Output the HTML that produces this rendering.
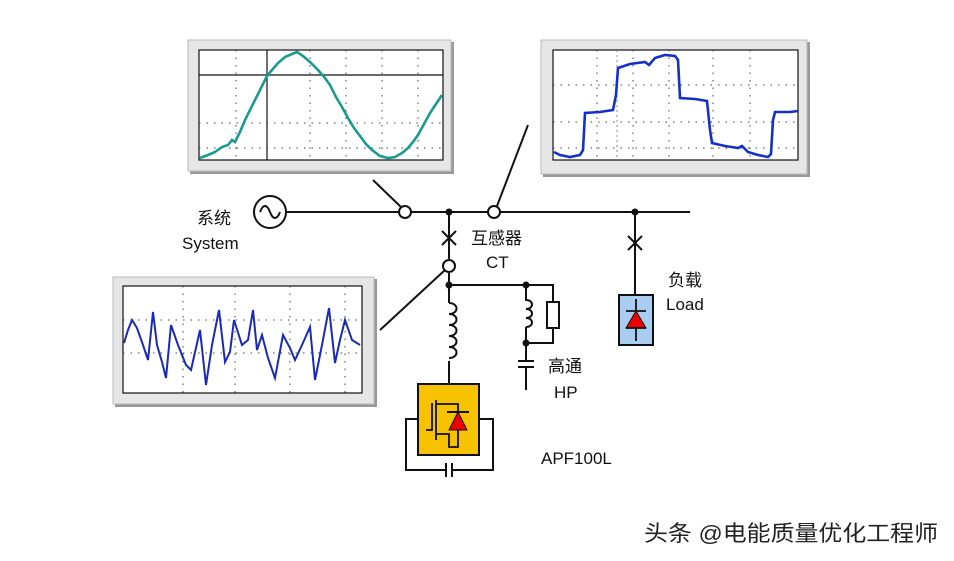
<!DOCTYPE html>
<html><head><meta charset="utf-8"><style>
html,body{margin:0;padding:0;background:#fff;width:954px;height:561px;overflow:hidden}
svg{display:block}
text{font-family:"Liberation Sans","Noto Sans CJK SC",sans-serif;font-size:17px;fill:#111}
</style></head><body>
<svg width="954" height="561" viewBox="0 0 954 561" xmlns="http://www.w3.org/2000/svg">
<g>
<rect x="190" y="42" width="264" height="132" fill="#999"/>
<rect x="188" y="40" width="263" height="131" fill="#e6e6e6" stroke="#bbb"/>
<rect x="199" y="50" width="244" height="110" fill="#fff" stroke="#111" stroke-width="1.2"/>
<rect x="543" y="42" width="267" height="135" fill="#999"/>
<rect x="541" y="40" width="266" height="134" fill="#e6e6e6" stroke="#bbb"/>
<rect x="553" y="50" width="245" height="110" fill="#fff" stroke="#111" stroke-width="1.2"/>
<rect x="115" y="279" width="262" height="128" fill="#999"/>
<rect x="113" y="277" width="261" height="127" fill="#e6e6e6" stroke="#bbb"/>
<rect x="123" y="286" width="239" height="107" fill="#fff" stroke="#111" stroke-width="1.2"/>
</g>
<g stroke="#444" stroke-width="1" stroke-dasharray="1.5 6" fill="none">
<path d="M236 50V160M310 50V160M346 50V160M382 50V160M418 50V160M199 123H443M199 148H443"/>
<path d="M597 50V160M633 50V160M669 50V160M713 50V160M750 50V160M553 85H798M553 122H798M553 148H798"/>
<path d="M183 286V393M235 286V393M290 286V393M345 286V393M123 320H362M123 353H362"/>
</g>
<path d="M199 75H443M267 50V160" stroke="#111" stroke-width="1.2"/>
<path d="M617 50V160" stroke="#888" stroke-width="1" stroke-dasharray="2 3"/>
<polyline fill="none" stroke="#1a9b8e" stroke-width="2.6" points="200,158 208,155 215,152 222,147 228,145 232,140 235,142 240,132 245,120 250,110 255,100 260,90 264,82 267,76 272,70 278,63 285,57 292,54 297,52 303,56 310,62 318,70 325,78 330,85 336,97 342,107 348,118 354,128 360,136 366,144 372,150 380,156 388,158 395,157 402,153 408,148 413,142 418,135 424,124 430,113 436,104 442,95"/>
<polyline fill="none" stroke="#1530c8" stroke-width="2.6" points="554,152 560,155 570,157 580,155 583,150 585,113 600,112 613,110 616,95 618,68 630,64 645,62 649,65 655,58 665,55 675,56 678,60 680,98 695,99 707,101 710,130 712,143 725,146 738,148 742,146 748,152 758,155 768,157 771,154 773,120 775,112 790,112 798,111"/>
<polyline fill="none" stroke="#1a2ab8" stroke-width="2" points="124,343 128,330 132,320 137,328 143,345 148,360 153,312 157,345 162,362 166,378 171,325 178,345 186,365 191,370 200,330 206,385 212,345 219,310 225,362 230,352 234,320 242,345 248,340 253,310 257,350 262,335 268,358 275,378 283,335 290,348 295,360 302,345 310,327 315,380 322,345 329,308 335,363 340,340 345,320 352,340 360,345"/>
<g stroke="#111" stroke-width="2" fill="none">
<circle cx="270" cy="212" r="16"/>
<path d="M260 212c3-8 7-8 10 0s7 8 10 0"/>
<path d="M286 212H690"/>
<circle cx="405" cy="212" r="6" fill="#fff"/>
<path d="M373 180L401 207"/>
<circle cx="494" cy="212" r="6" fill="#fff"/>
<path d="M528 125L497 206"/>
<path d="M449 212V384"/>
<path d="M442 231l14 14M456 231l-14 14"/>
<circle cx="449" cy="266" r="6" fill="#fff"/>
<path d="M380 330L445 270"/>
<path d="M449 285H526V300M526 285H553V302M553 328V343H526"/>
<rect x="547" y="302" width="12" height="26" fill="#fff"/>
<path d="M526 300v30M526 330V360M518 361h16M518 367h16M526 367V390"/>
<path d="M635 212V295M628 236l14 14M642 236l-14 14"/>
</g>
<rect x="445" y="303" width="16" height="58" fill="#fff"/>
<path d="M449 303c10 0 10 11 0 11c10 0 10 11 0 11c10 0 10 11 0 11c10 0 10 11 0 11c10 0 10 11 0 11" stroke="#111" stroke-width="2" fill="none"/>
<rect x="522" y="301" width="14" height="34" fill="#fff"/>
<path d="M526 300c8 0 8 9 0 9c8 0 8 9 0 9c8 0 8 9 0 9" stroke="#111" stroke-width="2" fill="none"/>
<path d="M526 327V343" stroke="#111" stroke-width="2"/>
<g fill="#111"><circle cx="449" cy="212" r="3.5"/><circle cx="635" cy="212" r="3.5"/><circle cx="449" cy="285" r="3.5"/><circle cx="526" cy="285" r="3.5"/><circle cx="526" cy="343" r="3.5"/></g>
<path d="M418 419H406V470H446M452 470H493V419H479" stroke="#111" stroke-width="2" fill="none"/>
<path d="M446 463V477M452 463V477" stroke="#111" stroke-width="2"/>
<rect x="418" y="384" width="61" height="71" fill="#f7c300" stroke="#111" stroke-width="2"/>
<g stroke="#111" stroke-width="1.8" fill="none">
<path d="M426 430H432V403M436 400V440M436 404H458V416M436 434H449V447H458V438M458 416V438"/>
</g>
<path d="M449 430L458 412L467 430Z" fill="#e00" stroke="#111" stroke-width="1"/>
<path d="M447 412H469" stroke="#111" stroke-width="2"/>
<rect x="619" y="295" width="34" height="50" fill="#a9cdf0" stroke="#111" stroke-width="2"/>
<path d="M636 299V341M626 311H646" stroke="#111" stroke-width="1.8"/>
<path d="M626 328L636 311L646 328Z" fill="#e00" stroke="#111" stroke-width="1"/>
<path d="M626 328H646" stroke="#111" stroke-width="1.8"/>
<text x="197" y="224">系统</text>
<text x="182" y="249">System</text>
<text x="471" y="244">互感器</text>
<text x="486" y="268">CT</text>
<text x="668" y="286">负载</text>
<text x="666" y="310">Load</text>
<text x="548" y="372">高通</text>
<text x="554" y="398">HP</text>
<text x="541" y="464">APF100L</text>
<text x="644" y="541" textLength="294" lengthAdjust="spacingAndGlyphs" style="font-size:22px;fill:#222">头条 @电能质量优化工程师</text>
</svg>
</body></html>
